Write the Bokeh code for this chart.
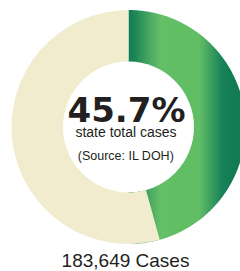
import numpy as np
from bokeh.plotting import figure
from bokeh.models import Range1d
from bokeh.embed import file_html
from bokeh.resources import INLINE
from bokeh.core.properties import value

# ---- data ----
share_pct = 45.7
center_labels = ["45.7%", "state total cases", "(Source: IL DOH)"]
cases_label = "183,649 Cases"

# ---- style ----
R_OUT = 117.0
R_IN = 65.5
beige = "#f2ecce"
text_color = "#231f20"
grad_pos = [0.0, 0.05, 0.27, 0.60, 0.80, 1.0]
grad_rgb = [(11, 122, 79), (20, 128, 80), (92, 188, 95), (92, 188, 95), (12, 122, 80), (10, 118, 78)]

p = figure(width=240, height=271, output_backend="svg", toolbar_location=None,
           x_range=Range1d(-128, 112), y_range=Range1d(-144.5, 126.5),
           min_border=0, outline_line_color=None, background_fill_color="white")
p.axis.visible = False
p.grid.visible = False

# gradient strips for the green share (horizontal gradient)
n = 240
edges = np.linspace(0, R_OUT + 2, n + 1)
mids = (edges[:-1] + edges[1:]) / 2 / R_OUT
gp = np.array(grad_pos)
cols = []
for m in mids:
    m = min(m, 1.0)
    rgb = [np.interp(m, gp, [c[k] for c in grad_rgb]) for k in range(3)]
    cols.append("#%02x%02x%02x" % tuple(int(round(v)) for v in rgb))
p.quad(left=edges[:-1], right=edges[1:] + 0.4, bottom=-R_OUT - 2, top=R_OUT + 2,
       fill_color=cols, line_color=None)

# white mask outside the ring
theta = np.linspace(0, 2 * np.pi, 361)
hole_x = list(R_OUT * np.cos(theta))
hole_y = list(R_OUT * np.sin(theta))
p.multi_polygons(xs=[[[[-140, 140, 140, -140], hole_x]]],
                 ys=[[[[-150, -150, 140, 140], hole_y]]],
                 fill_color="white", line_color=None)

# inner hole
p.circle(x=[0], y=[0], radius=R_IN, fill_color="white", line_color=None)

# beige remainder
end_green = np.pi / 2 - share_pct / 100 * 2 * np.pi
p.annular_wedge(x=[0], y=[0], inner_radius=R_IN, outer_radius=R_OUT,
                start_angle=np.pi / 2, end_angle=end_green + 2 * np.pi,
                direction="anticlock", fill_color=beige, line_color=None)

# texts
p.text(x=[-2], y=[17], text=[center_labels[0]], text_align="center",
       text_baseline="alphabetic", text_font=value("DejaVu Sans"),
       text_font_style="bold", text_font_size="34px", text_color=text_color)
p.text(x=[-2.5], y=[-5], text=[center_labels[1]], text_align="center",
       text_baseline="alphabetic", text_font=value("Liberation Sans"),
       text_font_size="14px", text_color=text_color)
p.text(x=[-2.5], y=[-28.5], text=[center_labels[2]], text_align="center",
       text_baseline="alphabetic", text_font=value("Liberation Sans"),
       text_font_size="12.5px", text_color=text_color)
p.text(x=[-3], y=[-133], text=[cases_label], text_align="center",
       text_baseline="alphabetic", text_font=value("Liberation Sans"),
       text_font_size="19px", text_color=text_color)

open("out.html", "w").write(file_html(p, INLINE))
